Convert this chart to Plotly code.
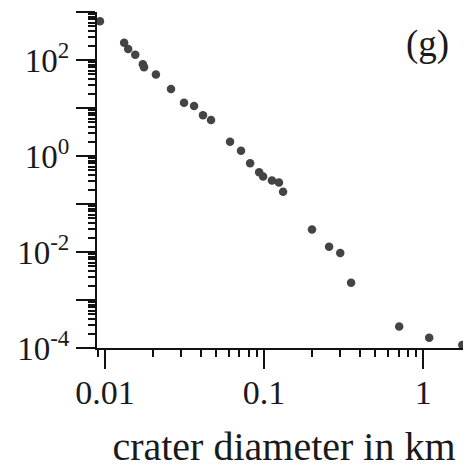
import plotly.graph_objects as go

# crater diameter (km) vs cumulative count
diameter_km = [0.0093, 0.0132, 0.0140, 0.0155, 0.0173, 0.0176, 0.0209, 0.026,
               0.0314, 0.0363, 0.0413, 0.0464, 0.0611, 0.0716, 0.0817, 0.0931,
               0.0986, 0.112, 0.124, 0.1316, 0.200, 0.256, 0.301, 0.352,
               0.706, 1.09, 1.76]
count = [645, 230, 170, 128, 82, 71, 50, 25,
         12.8, 11, 7.1, 5.6, 1.99, 1.28, 0.71, 0.457,
         0.375, 0.309, 0.28, 0.18, 0.0294, 0.0128, 0.0095, 0.00229,
         0.00028, 0.000163, 0.000116]

x_ticks = [0.01, 0.1, 1]
x_labels = ["0.01", "0.1", "1"]
y_ticks = [1e-4, 1e-3, 1e-2, 1e-1, 1, 10, 100, 1000]
y_labels = ["10<sup>-4</sup>", "", "10<sup>-2</sup>", "", "10<sup>0</sup>", "", "10<sup>2</sup>", ""]

x_minor = [m * 10.0 ** e for e in (-3, -2, -1, 0) for m in range(2, 10)]
y_minor = [m * 10.0 ** e for e in range(-4, 3) for m in range(2, 10)]

font = "Liberation Serif"

# page body has an 8px margin, so the figure is 8px smaller than the window
fig = go.Figure(
    data=[go.Scatter(x=diameter_km, y=count, mode="markers",
                     marker={"color": "#444444", "size": 8.5}, cliponaxis=False)],
    layout={
        "width": 463, "height": 461,
        "margin": {"l": 89, "r": 0, "t": 4, "b": 121},
        "paper_bgcolor": "white", "plot_bgcolor": "white",
        "showlegend": False,
        "font": {"family": font, "size": 33, "color": "#1a1a1a"},
        "xaxis": {
            "type": "log", "range": [-2.05, 0.3],
            "showgrid": False, "zeroline": False,
            "showline": True, "linecolor": "#111", "linewidth": 2,
            "ticks": "outside", "ticklen": 19, "tickwidth": 2, "tickcolor": "#111",
            "tickvals": x_ticks, "ticktext": x_labels,
            "tickfont": {"size": 34}, "ticklabelstandoff": -6,
            "minor": {"tickvals": x_minor, "ticks": "outside", "ticklen": 7,
                      "tickwidth": 1.5, "tickcolor": "#111", "showgrid": False},
            "title": {"text": "crater diameter in km", "standoff": 31},
        },
        "yaxis": {
            "type": "log", "range": [-4, 3],
            "showgrid": False, "zeroline": False,
            "showline": True, "linecolor": "#111", "linewidth": 2,
            "ticks": "outside", "ticklen": 19, "tickwidth": 2, "tickcolor": "#111",
            "tickvals": y_ticks, "ticktext": y_labels,
            "tickfont": {"size": 33},
            "minor": {"tickvals": y_minor, "ticks": "outside", "ticklen": 7,
                      "tickwidth": 1.5, "tickcolor": "#111", "showgrid": False},
        },
        "annotations": [{"text": "(g)", "xref": "paper", "yref": "paper",
                         "x": 0.885, "y": 0.905, "xanchor": "center", "yanchor": "middle",
                         "showarrow": False,
                         "font": {"family": font, "size": 37, "color": "#1a1a1a"}}],
    },
)

fig.write_html("out.html")
